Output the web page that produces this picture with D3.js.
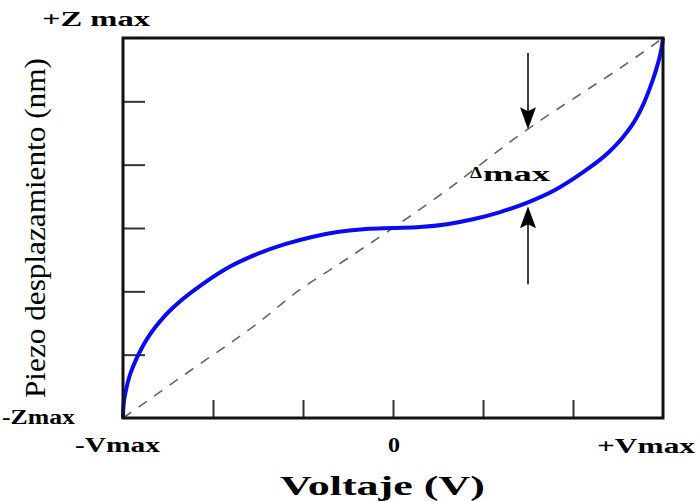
<!DOCTYPE html>
<html>
<head>
<meta charset="utf-8">
<script src="https://cdn.jsdelivr.net/npm/d3@7"></script>
</head>
<body style="margin:0;background:#fff">
<svg id="chart" width="700" height="501" style="display:block"></svg>
<script>
// Normalised voltage (-Vmax .. +Vmax) and displacement (-Zmax .. +Zmax)
const piezoV = [-1, -0.999, -0.995, -0.99, -0.98, -0.96, -0.93, -0.9, -0.85, -0.8, -0.7, -0.6, -0.5, -0.4, -0.3, -0.2, -0.1, 0,
                0.1, 0.2, 0.3, 0.4, 0.5, 0.6, 0.7, 0.8, 0.85, 0.9, 0.93, 0.96, 0.98, 0.99, 0.995, 1];
const piezoZ = [-1, -0.955, -0.9, -0.86, -0.8, -0.72, -0.63, -0.56, -0.47, -0.4, -0.29, -0.2, -0.135, -0.085, -0.047, -0.02, -0.005, 0,
                0.005, 0.02, 0.047, 0.085, 0.135, 0.2, 0.29, 0.4, 0.475, 0.575, 0.66, 0.77, 0.86, 0.915, 0.95, 1];

// Ideal (linear) response
const idealV = [-1, -0.75, -0.5, -0.35, -0.2, 0, 0.2, 0.45, 0.55, 0.7, 0.85, 1];
const idealZ = [-1, -0.75, -0.5, -0.33, -0.19, 0, 0.2, 0.47, 0.57, 0.71, 0.85, 1];

const xTicks = [-2/3, -1/3, 0, 1/3, 2/3];
const yTicks = [-2/3, -1/3, 0, 1/3, 2/3];

const xLabels = ["-Vmax", "0", "+Vmax"];
const yLabels = ["-Zmax", "+Z max"];
const xTitle = "Voltaje (V)";
const yTitle = "Piezo desplazamiento (nm)";

// Deflection marker drawn at this voltage
const deltaV = 0.5;

const svg = d3.select("#chart");
const L = 123, R = 663, T = 38, B = 418;
const x = d3.scaleLinear().domain([-1, 1]).range([L, R]);
const y = d3.scaleLinear().domain([-1, 1]).range([B, T]);

// ticks (pointing inward)
svg.append("g")
  .attr("transform", `translate(0,${B})`)
  .call(d3.axisBottom(x).tickValues(xTicks).tickSize(-18).tickFormat(""))
  .call(g => g.select(".domain").remove())
  .call(g => g.selectAll("line").attr("stroke", "#333").attr("stroke-width", 2));

svg.append("g")
  .attr("transform", `translate(${L},0)`)
  .call(d3.axisLeft(y).tickValues(yTicks).tickSize(-22).tickFormat(""))
  .call(g => g.select(".domain").remove())
  .call(g => g.selectAll("line").attr("stroke", "#333").attr("stroke-width", 2));

// ideal dashed line
const idealData = idealV.map((v, i) => [v, idealZ[i]]);
svg.append("path")
  .datum(idealData)
  .attr("fill", "none")
  .attr("stroke", "#666")
  .attr("stroke-width", 1.6)
  .attr("stroke-dasharray", "10,9")
  .attr("d", d3.line().x(d => x(d[0])).y(d => y(d[1])).curve(d3.curveMonotoneX));

// piezo response
const piezoData = piezoV.map((v, i) => [v, piezoZ[i]]);
svg.append("path")
  .datum(piezoData)
  .attr("fill", "none")
  .attr("stroke", "#0a0af5")
  .attr("stroke-width", 4)
  .attr("d", d3.line().x(d => x(d[0])).y(d => y(d[1])).curve(d3.curveMonotoneX));

// frame
svg.append("rect")
  .attr("x", L).attr("y", T)
  .attr("width", R - L).attr("height", B - T)
  .attr("fill", "none")
  .attr("stroke", "#111")
  .attr("stroke-width", 3);

// deflection arrows
const ax = x(deltaV);
const ideal = d3.scaleLinear().domain(idealV).range(idealZ);
const piezo = d3.scaleLinear().domain(piezoV).range(piezoZ);
const topTip = y(ideal(deltaV));
const botTip = y(piezo(deltaV)) + 4;
const arrows = svg.append("g").attr("fill", "#000").attr("stroke", "#000");
arrows.append("line").attr("x1", ax).attr("x2", ax).attr("y1", T + 15).attr("y2", topTip - 10).attr("stroke-width", 1.5);
arrows.append("path").attr("stroke", "none")
  .attr("d", `M${ax},${topTip} L${ax - 8},${topTip - 22} L${ax},${topTip - 18} L${ax + 8},${topTip - 22} Z`);
arrows.append("line").attr("x1", ax).attr("x2", ax).attr("y1", botTip + 10).attr("y2", botTip + 78).attr("stroke-width", 1.5);
arrows.append("path").attr("stroke", "none")
  .attr("d", `M${ax},${botTip} L${ax - 8},${botTip + 22} L${ax},${botTip + 18} L${ax + 8},${botTip + 22} Z`);

// Text stretched horizontally to a given width; (x0, yb) is the left end of the baseline
function label(txt, x0, yb, size, width, bold = true, rotate = 0) {
  const g = svg.append("g");
  const t = g.append("text")
    .style("font-family", '"Liberation Serif", monospace')
    .style("font-weight", bold ? "bold" : "normal")
    .style("font-size", size + "px")
    .attr("fill", "#000")
    .text(txt);
  const w = t.node().getBBox().width || width;
  g.attr("transform", `translate(${x0},${yb}) rotate(${rotate}) scale(${width / w},1)`);
  return t;
}

// Δmax
label("Δ", 470, 178, 16, 12);
label("max", 483, 181, 20, 67);

label(yLabels[1], 42, 26, 20, 108);
label(yLabels[0], 2, 424, 20, 73);
label(xLabels[0], 75, 452, 20, 85);
label(xLabels[1], 388, 452, 20, 12);
label(xLabels[2], 597, 453, 20, 98);
label(xTitle, 280, 495, 27, 205);

// y title (rotated, reads bottom to top)
label(yTitle, 45, 398, 29, 340, false, -90);
</script>
</body>
</html>
